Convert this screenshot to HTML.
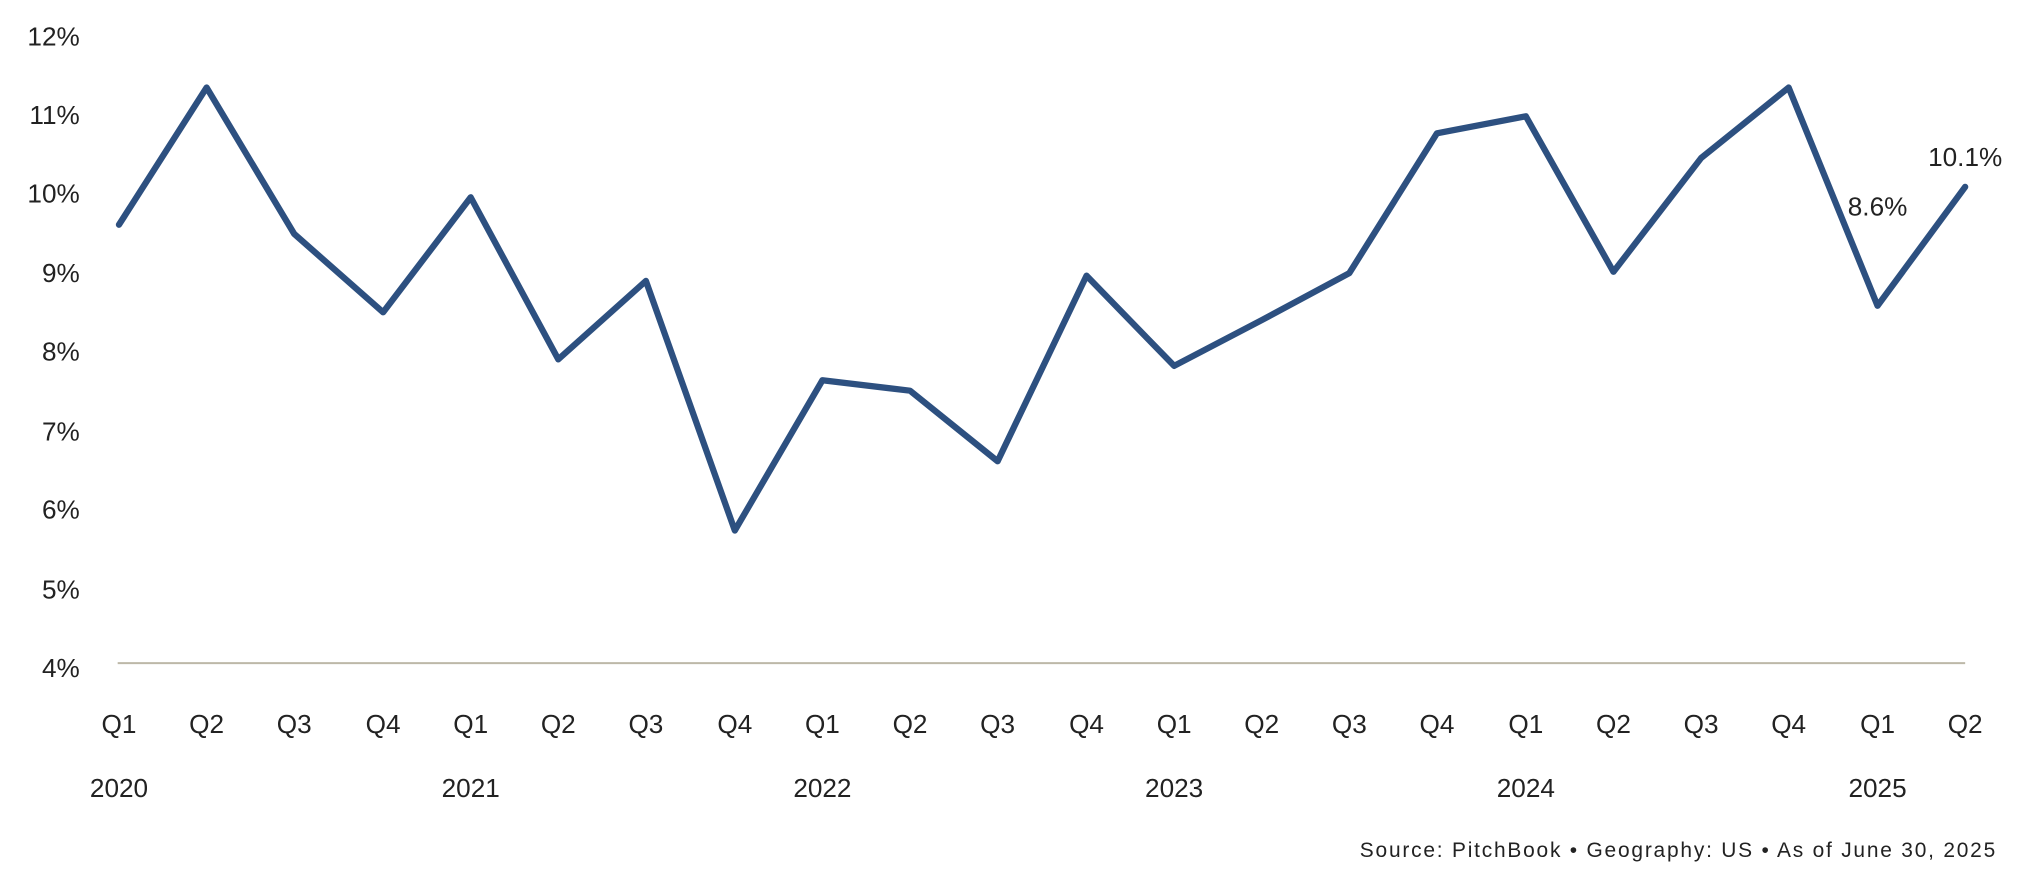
<!DOCTYPE html>
<html><head><meta charset="utf-8"><style>
html,body{margin:0;padding:0;background:#fff;}
svg{display:block;}
text{font-family:"Liberation Sans",sans-serif;fill:#222;}
</style></head><body>
<svg width="2024" height="882" viewBox="0 0 1548 675" preserveAspectRatio="none" xmlns="http://www.w3.org/2000/svg">
<line x1="90" y1="507.5" x2="1503" y2="507.5" stroke="#bdb8a8" stroke-width="1.5"/>
<g font-size="20" text-anchor="end">
<text x="61" y="35">12%</text>
<text x="61" y="95">11%</text>
<text x="61" y="155">10%</text>
<text x="61" y="216">9%</text>
<text x="61" y="276">8%</text>
<text x="61" y="337">7%</text>
<text x="61" y="397">6%</text>
<text x="61" y="458">5%</text>
<text x="61" y="518">4%</text>
</g>
<polyline fill="none" stroke="#2d5080" stroke-width="4.8" stroke-linejoin="round" stroke-linecap="round"
points="91,172 158,67 225,179 293,239 360,151 427,275 494,215 562,406 629,291 696,299 763,353 831,211 898,280 965,245 1032,209 1099,102 1167,89 1234,208 1301,121 1368,67 1436,234 1503,143"/>
<text x="1436" y="165" font-size="20" text-anchor="middle">8.6%</text>
<text x="1503" y="127" font-size="20" text-anchor="middle">10.1%</text>
<g font-size="20" text-anchor="middle">
<text x="91" y="561">Q1</text><text x="158" y="561">Q2</text><text x="225" y="561">Q3</text><text x="293" y="561">Q4</text>
<text x="360" y="561">Q1</text><text x="427" y="561">Q2</text><text x="494" y="561">Q3</text><text x="562" y="561">Q4</text>
<text x="629" y="561">Q1</text><text x="696" y="561">Q2</text><text x="763" y="561">Q3</text><text x="831" y="561">Q4</text>
<text x="898" y="561">Q1</text><text x="965" y="561">Q2</text><text x="1032" y="561">Q3</text><text x="1099" y="561">Q4</text>
<text x="1167" y="561">Q1</text><text x="1234" y="561">Q2</text><text x="1301" y="561">Q3</text><text x="1368" y="561">Q4</text>
<text x="1436" y="561">Q1</text><text x="1503" y="561">Q2</text>
<text x="91" y="610">2020</text><text x="360" y="610">2021</text><text x="629" y="610">2022</text>
<text x="898" y="610">2023</text><text x="1167" y="610">2024</text><text x="1436" y="610">2025</text>
</g>
<text x="1040" y="656" font-size="16" textLength="486" lengthAdjust="spacing">Source: PitchBook  •  Geography: US  •  As of June 30, 2025</text>
</svg>
</body></html>
